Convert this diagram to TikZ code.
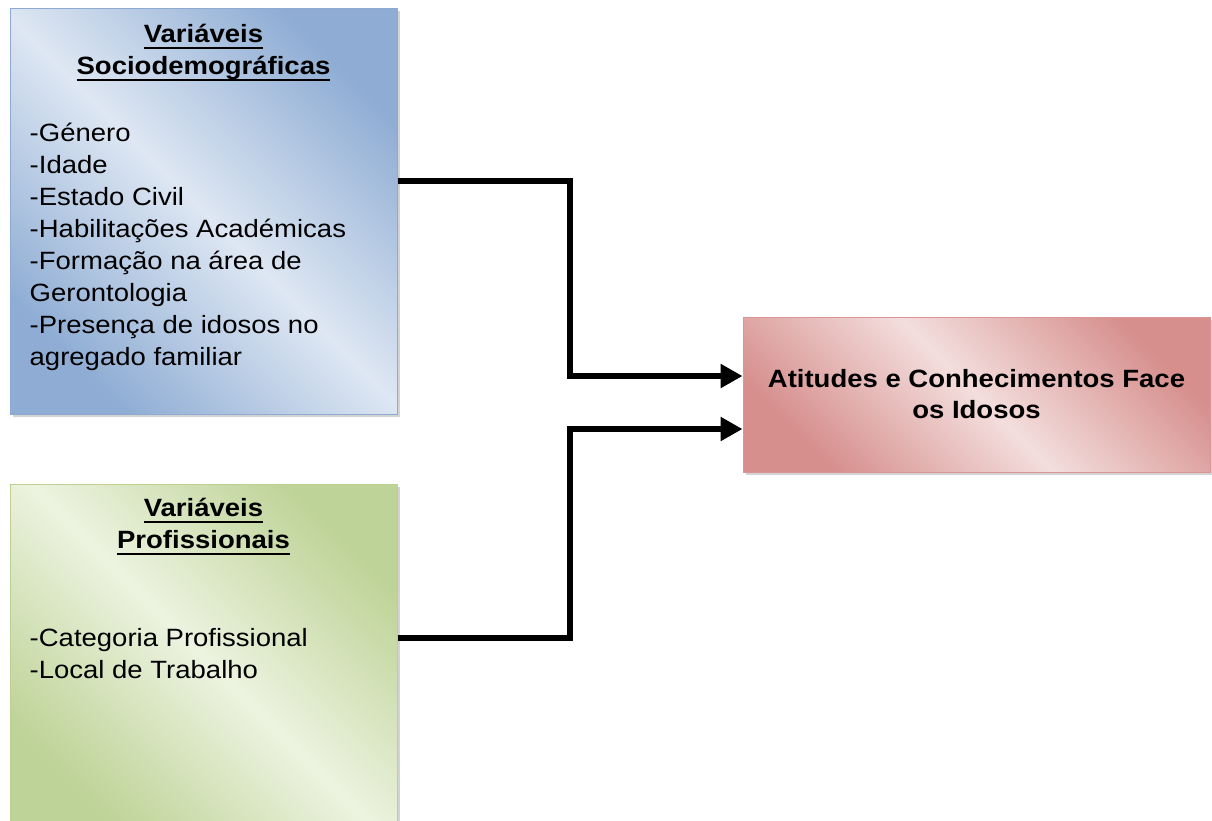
\documentclass[tikz,border=0pt]{standalone}
\usepackage{fontspec}
\setmainfont{Liberation Sans}[FakeStretch=1.1]
\usetikzlibrary{positioning,arrows.meta,shadows}
\definecolor{bluedark}{HTML}{8FADD4}
\definecolor{bluelight}{HTML}{DEE7F3}
\definecolor{blueedge}{HTML}{8EAAD0}
\definecolor{greendark}{HTML}{BED397}
\definecolor{greenlight}{HTML}{EDF3E0}
\definecolor{greenedge}{HTML}{BCD094}
\definecolor{reddark}{HTML}{D68F8D}
\definecolor{redlight}{HTML}{F3DEDD}
\definecolor{rededge}{HTML}{D99694}
\newcommand{\titleul}[1]{\setbox0=\hbox{#1}\rlap{\vrule width\wd0 height -4pt depth 6pt}\box0}
\tikzstyle{var box}=[
        rectangle,
        line width = 1pt,
        inner sep = 0pt,
        drop shadow = {shadow xshift = 2.5pt, shadow yshift = -3pt, opacity = 0.35}
    ]
\tikzstyle{heading}=[
        font = \fontsize{25}{32}\selectfont\bfseries,
        align = center,
        inner sep = 0pt
    ]
\tikzstyle{items}=[
        font = \fontsize{25}{32}\selectfont,
        align = left,
        inner sep = 0pt
    ]

\begin{document}
\begin{tikzpicture}[x=1pt, y=1pt, flow/.style = {line width = 6pt, -{Triangle[length=22pt, width=23pt]}}]
        \useasboundingbox (0,0) rectangle (1212,-820);

        \node[var box, draw = blueedge, minimum width = 387pt, minimum height = 406pt,
              left color = bluedark, right color = bluedark, middle color = bluelight, shading angle = -45] (socio) at (203.5,-211) {};
        \node[var box, draw = greenedge, minimum width = 387pt, minimum height = 347pt,
              left color = greendark, right color = greendark, middle color = greenlight, shading angle = -45] (prof) [below = 69pt of socio] {};
        \node[var box, draw = rededge, minimum width = 467pt, minimum height = 155pt,
              left color = reddark, right color = reddark, middle color = redlight, shading angle = -45,
              font = \fontsize{25}{31}\selectfont\bfseries, align = center] (res) at (976.5,-394.5)
              {Atitudes e Conhecimentos Face\\os Idosos};

        % base of a multi-line node = last line
        \node[heading, anchor = base] (sociot) at ([yshift=-67pt]socio.north)
              {\titleul{Variáveis}\\\titleul{Sociodemográficas}};
        \node[items, anchor = base west] (sociol) at ([shift={(20pt,-358pt)}]socio.north west)
              {-Género\\-Idade\\-Estado Civil\\-Habilitações Académicas\\-Formação na área de\\Gerontologia\\-Presença de idosos no\\agregado familiar};
        \node[heading, anchor = base] (proft) at ([yshift=-65pt]prof.north)
              {\titleul{Variáveis}\\\titleul{Profissionais}};
        \node[items, anchor = base west] (profl) at ([shift={(20pt,-195pt)}]prof.north west)
              {-Categoria Profissional\\-Local de Trabalho};

        \draw[flow] ([yshift=30pt]socio.east) -| ([xshift=-173pt,yshift=18.5pt]res.west) -- ([yshift=18.5pt]res.west);
        \draw[flow] ([yshift=19.5pt]prof.east) -| ([xshift=-173pt,yshift=-34.5pt]res.west) -- ([yshift=-34.5pt]res.west);
    \end{tikzpicture}
\end{document}
